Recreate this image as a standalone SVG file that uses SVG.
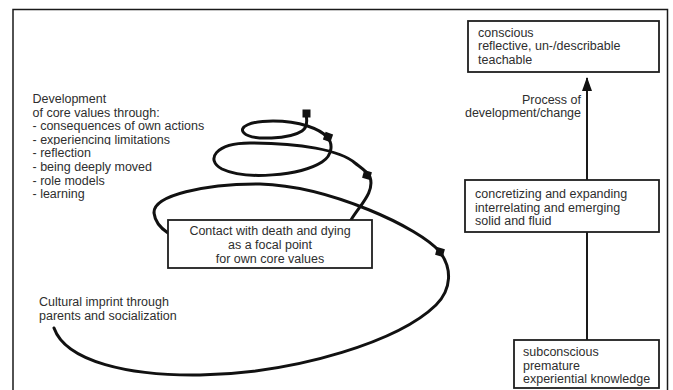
<svg xmlns="http://www.w3.org/2000/svg" width="673" height="390" viewBox="0 0 673 390">
<style>
  text { font-family: "Liberation Sans", Arial, sans-serif; font-size: 12.5px; fill: #2e2e2e; }
  .box { fill: #ffffff; stroke: #1e1e1e; stroke-width: 1.8; }
  .frame { fill: none; stroke: #1a1a1a; stroke-width: 1.5; }
  .spiral { fill: none; stroke: #111; stroke-width: 3; stroke-linecap: round; }
  .vline { stroke: #1a1a1a; stroke-width: 2; fill: none; }
  .mk { fill: #111; }
</style>
<defs>
  <marker id="arrow" viewBox="0 0 14 10" refX="13" refY="5" markerWidth="14" markerHeight="10" markerUnits="userSpaceOnUse" orient="auto">
    <path d="M0,0 L14,5 L0,10 Z" fill="#111"/>
  </marker>
  <clipPath id="cutline"><rect x="0" y="0" width="300" height="145"/></clipPath>
</defs>
<rect class="frame" x="13" y="9.5" width="654.5" height="400"/>

<g id="labels-left">
  <text x="32.5" y="103">Development</text>
  <text x="32.5" y="116.6">of core values through:</text>
  <text x="32.5" y="130.2">- consequences of own actions</text>
  <text x="32.5" y="143.8" clip-path="url(#cutline)">- experiencing limitations</text>
  <text x="32.5" y="157.4">- reflection</text>
  <text x="32.5" y="171">- being deeply moved</text>
  <text x="32.5" y="184.6">- role models</text>
  <text x="32.5" y="198.2">- learning</text>
</g>
<g id="label-cultural">
  <text x="39" y="306">Cultural imprint through</text>
  <text x="39" y="319.5">parents and socialization</text>
</g>

<g id="connectors">
  <path class="spiral" d="M54,328 C66,362 130,376 200,375 C300,373 400,340 436,305 C452,289 452,268 440,252 C420,228 330,186 260,184 C205,184 153,195 154,213 C155,222 162,229 168,233 C190,255 330,260 351,220 C360,205 375,192 370,177 C368,172 360,167 355,163 C340,150 300,143 250,143 C215,143 205,160 222,169 C245,180 300,176 322,162 C333,155 333,143 327,137 C320,129 300,121 273,121 C250,121 238,127 244,133 C252,141 290,139 302,131 C308,127 307,119 306,114"/>
  <rect class="mk" x="302.5" y="109.5" width="8" height="8"/>
  <rect class="mk" x="324" y="133" width="8" height="8" transform="rotate(20 328 137)"/>
  <rect class="mk" x="363" y="171" width="8" height="8" transform="rotate(15 367 175)"/>
  <rect class="mk" x="436" y="248" width="8" height="8" transform="rotate(15 440 252)"/>
  <line class="vline" x1="587" y1="340" x2="587" y2="232"/>
  <line class="vline" x1="587" y1="180" x2="587" y2="78" marker-end="url(#arrow)"/>
</g>

<g id="node-contact">
  <rect class="box" x="168" y="220" width="204" height="48"/>
  <text x="270" y="235" text-anchor="middle">Contact with death and dying</text>
  <text x="270" y="249" text-anchor="middle">as a focal point</text>
  <text x="270" y="262.5" text-anchor="middle">for own core values</text>
</g>

<g id="node-conscious">
  <rect class="box" x="468" y="21" width="191" height="51"/>
  <text x="478" y="36.5">conscious</text>
  <text x="478" y="50">reflective, un-/describable</text>
  <text x="478" y="63.5">teachable</text>
</g>

<g id="label-process">
  <text x="581" y="103.5" text-anchor="end">Process of</text>
  <text x="581" y="117" text-anchor="end">development/change</text>
</g>

<g id="node-concretizing">
  <rect class="box" x="465" y="180" width="194" height="52"/>
  <text x="475" y="197.5">concretizing and expanding</text>
  <text x="475" y="211.5">interrelating and emerging</text>
  <text x="475" y="225">solid and fluid</text>
</g>

<g id="node-subconscious">
  <rect class="box" x="514" y="340" width="145" height="48"/>
  <text x="523" y="355.5">subconscious</text>
  <text x="523" y="369.5">premature</text>
  <text x="523" y="383">experiential knowledge</text>
</g>
</svg>
